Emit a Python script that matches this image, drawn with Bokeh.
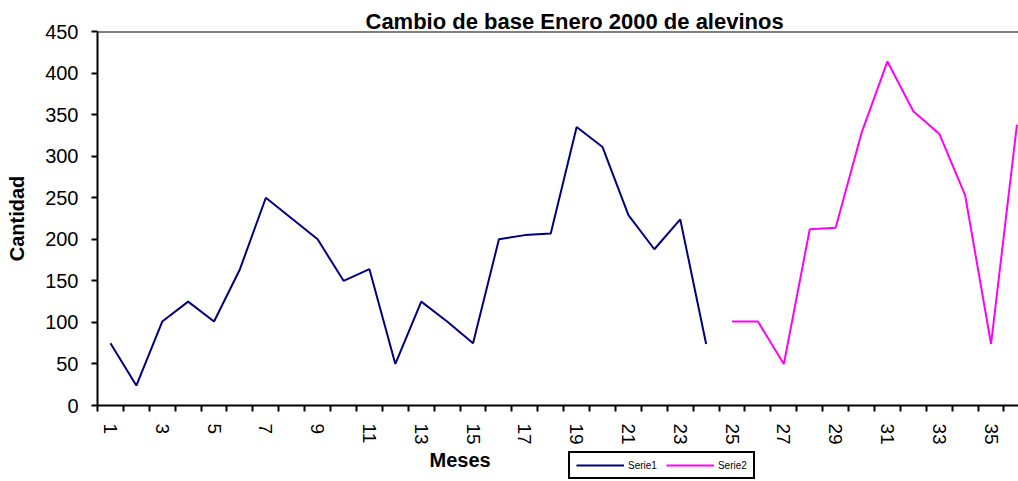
from bokeh.plotting import figure
from bokeh.models import FixedTicker, Legend, LegendItem, Span, Range1d, Label
from bokeh.layouts import column
from bokeh.embed import file_html
from bokeh.resources import INLINE

# ---- data ----
title_text = "Cambio de base Enero 2000 de alevinos"
x_label = "Meses"
y_label = "Cantidad"
meses = list(range(1, 37))
serie1_meses = meses[:24]
serie1 = [75, 24, 101, 125, 101, 164, 250, 225, 200, 150, 164, 50,
          125, 101, 75, 200, 205, 207, 335, 311, 229, 188, 224, 74]
serie2_meses = meses[24:]
serie2 = [101, 101, 50, 212, 214, 328, 414, 354, 327, 253, 74, 338]
series_names = ["Serie1", "Serie2"]
series_colors = ["#000080", "#FF00FF"]
y_ticks = [0, 50, 100, 150, 200, 250, 300, 350, 400, 450]
x_label_ticks = meses[::2]
FONT = "Liberation Sans"

# ---- main chart ----
p = figure(width=1018, height=447,
           x_range=Range1d(0.5, 36.06), y_range=Range1d(0, 450),
           output_backend="svg", toolbar_location=None,
           min_border_left=97, min_border_right=0, min_border_top=31,
           min_border_bottom=42)
p.outline_line_color = None
p.background_fill_color = "white"
p.border_fill_color = "white"
p.xgrid.visible = False
p.ygrid.visible = False

p.title.text = title_text
p.title.align = "left"
p.title.offset = 268
p.title.standoff = -4
p.title.text_font = FONT
p.title.text_font_size = "22px"
p.title.text_font_style = "bold"
p.title.text_color = "black"

p.line(serie1_meses, serie1, line_color=series_colors[0], line_width=2)
p.line(serie2_meses, serie2, line_color=series_colors[1], line_width=2)

p.add_layout(Span(location=y_ticks[-1], dimension="width", line_color="black", line_width=2))

ya = p.yaxis[0]
ya.ticker = FixedTicker(ticks=y_ticks)
ya.axis_line_width = 2
ya.axis_line_color = "black"
ya.major_tick_line_width = 2
ya.major_tick_line_color = "black"
ya.major_tick_out = 6
ya.major_tick_in = 0
ya.minor_tick_line_color = None
ya.major_label_text_font = FONT
ya.major_label_text_font_size = "20px"
ya.major_label_text_color = "black"
ya.major_label_standoff = 13
ya.axis_label = y_label
ya.axis_label_text_font = FONT
ya.axis_label_text_font_size = "20px"
ya.axis_label_text_font_style = "bold"
ya.axis_label_text_color = "black"
ya.axis_label_standoff = 14

xa = p.xaxis[0]
boundaries = [m - 0.5 for m in meses]
xa.ticker = FixedTicker(ticks=x_label_ticks, minor_ticks=boundaries)
xa.axis_line_width = 2
xa.axis_line_color = "black"
xa.major_tick_line_color = None
xa.major_tick_out = 6
xa.major_tick_in = 0
xa.minor_tick_line_color = "black"
xa.minor_tick_line_width = 2
xa.minor_tick_out = 6
xa.minor_tick_in = 0
xa.major_label_orientation = "vertical"
xa.major_label_text_font = FONT
xa.major_label_text_font_size = "19px"
xa.major_label_text_color = "black"
xa.major_label_standoff = 12

# ---- bottom strip: axis title + legend (frame aligned with the chart's frame) ----
s = figure(width=1018, height=34, x_range=Range1d(97, 1018), y_range=Range1d(-34, 0),
           output_backend="svg", toolbar_location=None,
           x_axis_location=None, y_axis_location=None,
           min_border=0, min_border_left=97, min_border_right=0,
           min_border_top=0, min_border_bottom=0)
s.outline_line_color = None
s.background_fill_color = "white"
s.border_fill_color = "white"
s.grid.visible = False

l1 = s.line(serie1_meses, serie1, line_color=series_colors[0], line_width=2)
l2 = s.line(serie2_meses, serie2, line_color=series_colors[1], line_width=2)

s.add_layout(Label(x=429, y=-12, text=x_label, text_font=FONT, text_font_size="20px",
                   text_font_style="bold", text_color="black",
                   text_baseline="alphabetic"))

legend = Legend(items=[LegendItem(label=series_names[0], renderers=[l1]),
                       LegendItem(label=series_names[1], renderers=[l2])],
                orientation="horizontal", location=(471, 2),
                padding=6, spacing=9, margin=0,
                glyph_width=48, glyph_height=12, label_height=12,
                label_standoff=4, label_text_font=FONT,
                label_text_font_size="10px", label_text_color="black",
                border_line_color="black", border_line_width=2, border_line_alpha=1.0,
                background_fill_color="white", background_fill_alpha=1)
s.add_layout(legend)

layout = column(p, s, spacing=0)
open("out.html", "w").write(file_html(layout, INLINE))
